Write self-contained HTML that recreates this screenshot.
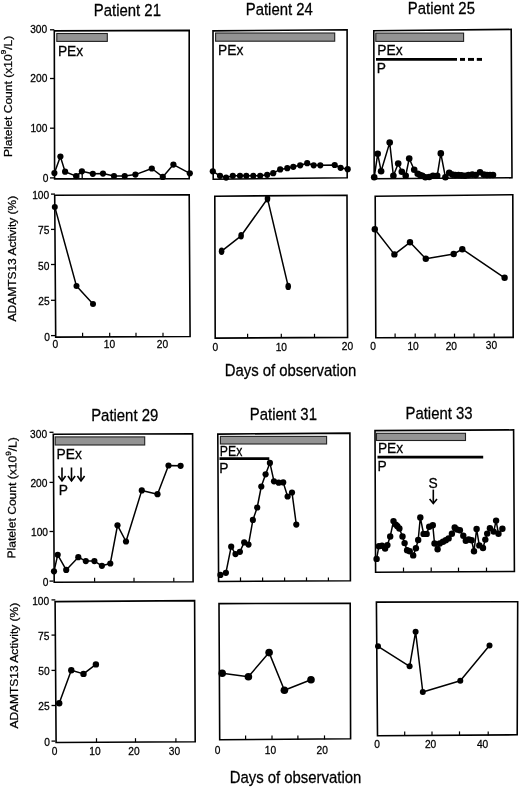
<!DOCTYPE html>
<html><head><meta charset="utf-8"><style>
html,body{margin:0;padding:0;background:#fff;}
svg{display:block;will-change:transform;}
text{font-family:"Liberation Sans", sans-serif;fill:#000;stroke:#000;stroke-width:0.25px;}
</style></head><body>
<svg width="520" height="787" viewBox="0 0 520 787">
<rect width="520" height="787" fill="#fff"/>
<text transform="translate(127.4,15.6) scale(1,1.05)" font-size="14.9" text-anchor="middle" >Patient 21</text>
<text transform="translate(279.3,15.1) scale(1,1.05)" font-size="14.9" text-anchor="middle" >Patient 24</text>
<text transform="translate(441.4,13.9) scale(1,1.05)" font-size="14.9" text-anchor="middle" >Patient 25</text>
<polygon points="54.3,30.9 189.2,30.4 189.2,178.6 54.6,178.9" fill="none" stroke="#000" stroke-width="1.6" stroke-linejoin="miter"/>
<line x1="50.0" y1="29.8" x2="54.3" y2="29.8" stroke="#000" stroke-width="1.3"/>
<text transform="translate(47.2,33.3) scale(1,1.08)" font-size="10.2" text-anchor="end" >300</text>
<line x1="50.0" y1="78.5" x2="54.3" y2="78.5" stroke="#000" stroke-width="1.3"/>
<text transform="translate(47.3,82.4) scale(1,1.08)" font-size="10.2" text-anchor="end" >200</text>
<line x1="50.0" y1="128.2" x2="54.3" y2="128.2" stroke="#000" stroke-width="1.3"/>
<text transform="translate(47.4,132.3) scale(1,1.08)" font-size="10.2" text-anchor="end" >100</text>
<line x1="50.0" y1="177.9" x2="54.3" y2="177.9" stroke="#000" stroke-width="1.3"/>
<text transform="translate(48.3,181.5) scale(1,1.08)" font-size="10.2" text-anchor="end" >0</text>
<line x1="82.2" y1="178.6" x2="82.2" y2="173.5" stroke="#000" stroke-width="1.3"/>
<line x1="78.9" y1="178.6" x2="78.9" y2="174" stroke="#000" stroke-width="1.0"/>
<rect x="56.8" y="33.5" width="50.5" height="7.9" fill="#939393" stroke="#222" stroke-width="1.1"/>
<text transform="translate(57.9,55.6) scale(1,1.02)" font-size="13.8" text-anchor="start" >PEx</text>
<path d="M54.4,173.1 L60.4,156.6 L65.1,171.7 L76.1,176.1 L81.9,171.3 L92.8,173.8 L103,173.6 L114,176 L124.7,176.1 L135.4,174.6 L151.8,168.5 L162.8,176.9 L173.4,164.6 L189.8,173.3" fill="none" stroke="#000" stroke-width="1.5" stroke-linejoin="round"/>
<circle cx="54.4" cy="173.1" r="3.1" fill="#000"/>
<circle cx="60.4" cy="156.6" r="3.1" fill="#000"/>
<circle cx="65.1" cy="171.7" r="3.1" fill="#000"/>
<circle cx="76.1" cy="176.1" r="3.1" fill="#000"/>
<circle cx="81.9" cy="171.3" r="3.1" fill="#000"/>
<circle cx="92.8" cy="173.8" r="3.1" fill="#000"/>
<circle cx="103" cy="173.6" r="3.1" fill="#000"/>
<circle cx="114" cy="176" r="3.1" fill="#000"/>
<circle cx="124.7" cy="176.1" r="3.1" fill="#000"/>
<circle cx="135.4" cy="174.6" r="3.1" fill="#000"/>
<circle cx="151.8" cy="168.5" r="3.1" fill="#000"/>
<circle cx="162.8" cy="176.9" r="3.1" fill="#000"/>
<circle cx="173.4" cy="164.6" r="3.1" fill="#000"/>
<circle cx="189.8" cy="173.3" r="3.1" fill="#000"/>
<polygon points="213,30.9 347.1,29.8 347.2,177.8 213.2,179.2" fill="none" stroke="#000" stroke-width="1.6" stroke-linejoin="miter"/>
<rect x="215.6" y="33" width="119.1" height="8.2" fill="#939393" stroke="#222" stroke-width="1.1"/>
<text transform="translate(218.0,55.4) scale(1,1.02)" font-size="13.8" text-anchor="start" >PEx</text>
<path d="M212.8,171.3 L220,175.8 L226.1,177.6 L232.8,175.8 L240,175.8 L246.3,175.8 L253.3,175.8 L260.2,175.8 L267.2,174.8 L273.2,173.2 L280.2,169.4 L287.3,168.2 L293.3,166.8 L300.2,165.3 L307.2,163.2 L313.7,165.3 L320.3,165.3 L334.7,165 L340.6,167.8 L347.7,169.2" fill="none" stroke="#000" stroke-width="1.5" stroke-linejoin="round"/>
<circle cx="212.8" cy="171.3" r="3.1" fill="#000"/>
<circle cx="220" cy="175.8" r="3.1" fill="#000"/>
<circle cx="226.1" cy="177.6" r="3.1" fill="#000"/>
<circle cx="232.8" cy="175.8" r="3.1" fill="#000"/>
<circle cx="240" cy="175.8" r="3.1" fill="#000"/>
<circle cx="246.3" cy="175.8" r="3.1" fill="#000"/>
<circle cx="253.3" cy="175.8" r="3.1" fill="#000"/>
<circle cx="260.2" cy="175.8" r="3.1" fill="#000"/>
<circle cx="267.2" cy="174.8" r="3.1" fill="#000"/>
<circle cx="273.2" cy="173.2" r="3.1" fill="#000"/>
<circle cx="280.2" cy="169.4" r="3.1" fill="#000"/>
<circle cx="287.3" cy="168.2" r="3.1" fill="#000"/>
<circle cx="293.3" cy="166.8" r="3.1" fill="#000"/>
<circle cx="300.2" cy="165.3" r="3.1" fill="#000"/>
<circle cx="307.2" cy="163.2" r="3.1" fill="#000"/>
<circle cx="313.7" cy="165.3" r="3.1" fill="#000"/>
<circle cx="320.3" cy="165.3" r="3.1" fill="#000"/>
<circle cx="334.7" cy="165" r="3.1" fill="#000"/>
<circle cx="340.6" cy="167.8" r="3.1" fill="#000"/>
<circle cx="347.7" cy="169.2" r="3.1" fill="#000"/>
<polygon points="373.8,30.7 511.2,29.4 512,177.8 374.2,178.7" fill="none" stroke="#000" stroke-width="1.6" stroke-linejoin="miter"/>
<rect x="375.8" y="33.1" width="87.8" height="8.3" fill="#939393" stroke="#222" stroke-width="1.1"/>
<text transform="translate(377.3,55) scale(1,1.02)" font-size="13.8" text-anchor="start" >PEx</text>
<line x1="376" y1="59.4" x2="457" y2="59.4" stroke="#000" stroke-width="2.9"/>
<line x1="460" y1="59.4" x2="465" y2="59.4" stroke="#000" stroke-width="2.9"/>
<line x1="468" y1="59.4" x2="474" y2="59.4" stroke="#000" stroke-width="2.9"/>
<line x1="476.8" y1="59.4" x2="482" y2="59.4" stroke="#000" stroke-width="2.9"/>
<text transform="translate(376.8,72.7) scale(1,1.02)" font-size="13.8" text-anchor="start" >P</text>
<path d="M374.2,177.3 L377.7,153.8 L381.1,171.2 L389.7,142.6 L393.4,175.8 L398.2,163.5 L401.8,171.8 L405.7,175.7 L409.2,158.5 L414.2,169.7 L417.7,173.8 L420,175 L422.3,175.8 L425.4,177.2 L429.2,177 L433,175.8 L437.2,175.8 L440.8,153.4 L445.4,177.2 L449.2,172.8 L452.3,174.6 L455.4,175 L458.5,175 L461.5,175.4 L465,175.8 L468.5,175 L472.3,174.6 L475.7,175 L480,172.3 L483.8,174.6 L487,175 L490,175 L493,175" fill="none" stroke="#000" stroke-width="1.5" stroke-linejoin="round"/>
<circle cx="374.2" cy="177.3" r="3.3" fill="#000"/>
<circle cx="377.7" cy="153.8" r="3.3" fill="#000"/>
<circle cx="381.1" cy="171.2" r="3.3" fill="#000"/>
<circle cx="389.7" cy="142.6" r="3.3" fill="#000"/>
<circle cx="393.4" cy="175.8" r="3.3" fill="#000"/>
<circle cx="398.2" cy="163.5" r="3.3" fill="#000"/>
<circle cx="401.8" cy="171.8" r="3.3" fill="#000"/>
<circle cx="405.7" cy="175.7" r="3.3" fill="#000"/>
<circle cx="409.2" cy="158.5" r="3.3" fill="#000"/>
<circle cx="414.2" cy="169.7" r="3.3" fill="#000"/>
<circle cx="417.7" cy="173.8" r="3.3" fill="#000"/>
<circle cx="420" cy="175" r="3.3" fill="#000"/>
<circle cx="422.3" cy="175.8" r="3.3" fill="#000"/>
<circle cx="425.4" cy="177.2" r="3.3" fill="#000"/>
<circle cx="429.2" cy="177" r="3.3" fill="#000"/>
<circle cx="433" cy="175.8" r="3.3" fill="#000"/>
<circle cx="437.2" cy="175.8" r="3.3" fill="#000"/>
<circle cx="440.8" cy="153.4" r="3.3" fill="#000"/>
<circle cx="445.4" cy="177.2" r="3.3" fill="#000"/>
<circle cx="449.2" cy="172.8" r="3.3" fill="#000"/>
<circle cx="452.3" cy="174.6" r="3.3" fill="#000"/>
<circle cx="455.4" cy="175" r="3.3" fill="#000"/>
<circle cx="458.5" cy="175" r="3.3" fill="#000"/>
<circle cx="461.5" cy="175.4" r="3.3" fill="#000"/>
<circle cx="465" cy="175.8" r="3.3" fill="#000"/>
<circle cx="468.5" cy="175" r="3.3" fill="#000"/>
<circle cx="472.3" cy="174.6" r="3.3" fill="#000"/>
<circle cx="475.7" cy="175" r="3.3" fill="#000"/>
<circle cx="480" cy="172.3" r="3.3" fill="#000"/>
<circle cx="483.8" cy="174.6" r="3.3" fill="#000"/>
<circle cx="487" cy="175" r="3.3" fill="#000"/>
<circle cx="490" cy="175" r="3.3" fill="#000"/>
<circle cx="493" cy="175" r="3.3" fill="#000"/>
<text transform="translate(11.6,96.3) rotate(-90) scale(1.07,1)" font-size="11.3" text-anchor="middle">Platelet Count (x10<tspan dy="-5.4" font-size="7.6">9</tspan><tspan dy="5.4">/L)</tspan></text>
<text transform="translate(15.6,258.6) rotate(-90) scale(1.07,1)" font-size="11.2" text-anchor="middle">ADAMTS13 Activity (%)</text>
<polygon points="54.7,195.2 189.2,194.7 190.1,336.5 55.7,337.1" fill="none" stroke="#000" stroke-width="1.6" stroke-linejoin="miter"/>
<line x1="51.0" y1="194.1" x2="55" y2="194.1" stroke="#000" stroke-width="1.3"/>
<text transform="translate(49.2,199.3) scale(1,1.08)" font-size="10.2" text-anchor="end" >100</text>
<line x1="51.0" y1="229.4" x2="55" y2="229.4" stroke="#000" stroke-width="1.3"/>
<text transform="translate(49.4,234.05) scale(1,1.08)" font-size="10.2" text-anchor="end" >75</text>
<line x1="51.0" y1="264.5" x2="55" y2="264.5" stroke="#000" stroke-width="1.3"/>
<text transform="translate(49.4,269.5) scale(1,1.08)" font-size="10.2" text-anchor="end" >50</text>
<line x1="51.0" y1="300.3" x2="55" y2="300.3" stroke="#000" stroke-width="1.3"/>
<text transform="translate(49.7,304.95) scale(1,1.08)" font-size="10.2" text-anchor="end" >25</text>
<line x1="51.0" y1="335.6" x2="55" y2="335.6" stroke="#000" stroke-width="1.3"/>
<text transform="translate(49.9,341.0) scale(1,1.08)" font-size="10.2" text-anchor="end" >0</text>
<line x1="82.6" y1="336.7" x2="82.6" y2="332.7" stroke="#000" stroke-width="1.2"/>
<line x1="109.7" y1="336.7" x2="109.7" y2="332.7" stroke="#000" stroke-width="1.2"/>
<line x1="136" y1="336.7" x2="136" y2="332.7" stroke="#000" stroke-width="1.2"/>
<line x1="163" y1="336.7" x2="163" y2="332.7" stroke="#000" stroke-width="1.2"/>
<text transform="translate(55.3,348.15) scale(1,1.08)" font-size="10.2" text-anchor="middle" >0</text>
<text transform="translate(109.5,347.75) scale(1,1.08)" font-size="10.2" text-anchor="middle" >10</text>
<text transform="translate(162.5,347.8) scale(1,1.08)" font-size="10.2" text-anchor="middle" >20</text>
<path d="M54.8,206.9 L76.5,286.1 L93,304" fill="none" stroke="#000" stroke-width="1.5" stroke-linejoin="round"/>
<circle cx="54.8" cy="206.9" r="3.0" fill="#000"/>
<circle cx="76.5" cy="286.1" r="3.0" fill="#000"/>
<circle cx="93" cy="304" r="3.0" fill="#000"/>
<polygon points="214.8,196.2 347,195.2 347.6,337.4 215.2,338.1" fill="none" stroke="#000" stroke-width="1.6" stroke-linejoin="miter"/>
<line x1="247.6" y1="337.8" x2="247.6" y2="333.8" stroke="#000" stroke-width="1.2"/>
<line x1="281.3" y1="337.8" x2="281.3" y2="333.8" stroke="#000" stroke-width="1.2"/>
<line x1="314.5" y1="337.8" x2="314.5" y2="333.8" stroke="#000" stroke-width="1.2"/>
<text transform="translate(215.4,351.05) scale(1,1.08)" font-size="10.2" text-anchor="middle" >0</text>
<text transform="translate(281.3,350.65) scale(1,1.08)" font-size="10.2" text-anchor="middle" >10</text>
<text transform="translate(347.4,350.15) scale(1,1.08)" font-size="10.2" text-anchor="middle" >20</text>
<path d="M221.6,251.2 L241.1,235.8 L267.5,198.7 L288.2,286.4" fill="none" stroke="#000" stroke-width="1.5" stroke-linejoin="round"/>
<ellipse cx="221.6" cy="251.2" rx="2.8" ry="3.7" fill="#000"/>
<ellipse cx="241.1" cy="235.8" rx="2.8" ry="3.7" fill="#000"/>
<ellipse cx="267.5" cy="198.7" rx="2.8" ry="3.7" fill="#000"/>
<ellipse cx="288.2" cy="286.4" rx="2.8" ry="3.7" fill="#000"/>
<text transform="translate(290.5,375.7) scale(1,1.07)" font-size="14.9" text-anchor="middle" >Days of observation</text>
<polygon points="375.2,196.2 512.8,194.7 513.2,337.4 375.8,337.8" fill="none" stroke="#000" stroke-width="1.6" stroke-linejoin="miter"/>
<line x1="395.1" y1="337.6" x2="395.1" y2="333.6" stroke="#000" stroke-width="1.2"/>
<line x1="415.2" y1="337.6" x2="415.2" y2="333.6" stroke="#000" stroke-width="1.2"/>
<line x1="435.1" y1="337.6" x2="435.1" y2="333.6" stroke="#000" stroke-width="1.2"/>
<line x1="454.5" y1="337.6" x2="454.5" y2="333.6" stroke="#000" stroke-width="1.2"/>
<line x1="474" y1="337.6" x2="474" y2="333.6" stroke="#000" stroke-width="1.2"/>
<line x1="494.2" y1="337.6" x2="494.2" y2="333.6" stroke="#000" stroke-width="1.2"/>
<text transform="translate(373.2,349.55) scale(1,1.08)" font-size="10.2" text-anchor="middle" >0</text>
<text transform="translate(413.1,349.6) scale(1,1.08)" font-size="10.2" text-anchor="middle" >10</text>
<text transform="translate(451.3,349.5) scale(1,1.08)" font-size="10.2" text-anchor="middle" >20</text>
<text transform="translate(491.5,349.05) scale(1,1.08)" font-size="10.2" text-anchor="middle" >30</text>
<path d="M374.8,229.3 L394.4,254.4 L410,242.3 L425.8,258.8 L453.7,254 L462.3,249.2 L504.6,277.8" fill="none" stroke="#000" stroke-width="1.5" stroke-linejoin="round"/>
<circle cx="374.8" cy="229.3" r="3.2" fill="#000"/>
<circle cx="394.4" cy="254.4" r="3.2" fill="#000"/>
<circle cx="410" cy="242.3" r="3.2" fill="#000"/>
<circle cx="425.8" cy="258.8" r="3.2" fill="#000"/>
<circle cx="453.7" cy="254" r="3.2" fill="#000"/>
<circle cx="462.3" cy="249.2" r="3.2" fill="#000"/>
<circle cx="504.6" cy="277.8" r="3.2" fill="#000"/>
<text transform="translate(124.7,420.6) scale(1,1.05)" font-size="14.9" text-anchor="middle" >Patient 29</text>
<text transform="translate(283.4,419.6) scale(1,1.05)" font-size="14.9" text-anchor="middle" >Patient 31</text>
<text transform="translate(439,419.1) scale(1,1.05)" font-size="14.9" text-anchor="middle" >Patient 33</text>
<polygon points="53.3,434.2 192.6,433.8 193.1,581.7 54.2,582.2" fill="none" stroke="#000" stroke-width="1.6" stroke-linejoin="miter"/>
<line x1="49.5" y1="432.3" x2="53.5" y2="432.3" stroke="#000" stroke-width="1.3"/>
<text transform="translate(47.1,437.6) scale(1,1.08)" font-size="10.2" text-anchor="end" >300</text>
<line x1="49.5" y1="482.4" x2="53.5" y2="482.4" stroke="#000" stroke-width="1.3"/>
<text transform="translate(47.4,487.1) scale(1,1.08)" font-size="10.2" text-anchor="end" >200</text>
<line x1="49.5" y1="531.5" x2="53.5" y2="531.5" stroke="#000" stroke-width="1.3"/>
<text transform="translate(48.0,536.3) scale(1,1.08)" font-size="10.2" text-anchor="end" >100</text>
<line x1="49.5" y1="581.1" x2="53.5" y2="581.1" stroke="#000" stroke-width="1.3"/>
<text transform="translate(48.4,586.05) scale(1,1.08)" font-size="10.2" text-anchor="end" >0</text>
<line x1="94.6" y1="581.8" x2="94.6" y2="577.8" stroke="#000" stroke-width="1.2"/>
<line x1="134" y1="581.8" x2="134" y2="577.8" stroke="#000" stroke-width="1.2"/>
<line x1="173.8" y1="581.8" x2="173.8" y2="577.8" stroke="#000" stroke-width="1.2"/>
<rect x="55.2" y="436.9" width="89.5" height="8.1" fill="#939393" stroke="#222" stroke-width="1.1"/>
<text transform="translate(56.5,458.8) scale(1,1.02)" font-size="13.8" text-anchor="start" >PEx</text>
<line x1="62" y1="467.5" x2="62" y2="480.7" stroke="#000" stroke-width="1.6"/>
<path d="M58.4,476 L62,481 L65.6,476" fill="none" stroke="#000" stroke-width="1.6" stroke-linejoin="miter"/>
<line x1="71.5" y1="467.5" x2="71.5" y2="480.7" stroke="#000" stroke-width="1.6"/>
<path d="M67.9,476 L71.5,481 L75.1,476" fill="none" stroke="#000" stroke-width="1.6" stroke-linejoin="miter"/>
<line x1="81" y1="467.5" x2="81" y2="480.7" stroke="#000" stroke-width="1.6"/>
<path d="M77.4,476 L81,481 L84.6,476" fill="none" stroke="#000" stroke-width="1.6" stroke-linejoin="miter"/>
<text transform="translate(58.8,495.2) scale(1,1.02)" font-size="13.8" text-anchor="start" >P</text>
<path d="M54,571.3 L57.7,554.8 L66.2,569.9 L78.3,557.2 L85.8,561.1 L94.4,561.1 L101.9,565.8 L110.3,563.5 L117.5,525.3 L126,541.5 L141.8,490.4 L157.5,494.2 L168.5,465.5 L180.6,465.8" fill="none" stroke="#000" stroke-width="1.5" stroke-linejoin="round"/>
<circle cx="54" cy="571.3" r="3.1" fill="#000"/>
<circle cx="57.7" cy="554.8" r="3.1" fill="#000"/>
<circle cx="66.2" cy="569.9" r="3.1" fill="#000"/>
<circle cx="78.3" cy="557.2" r="3.1" fill="#000"/>
<circle cx="85.8" cy="561.1" r="3.1" fill="#000"/>
<circle cx="94.4" cy="561.1" r="3.1" fill="#000"/>
<circle cx="101.9" cy="565.8" r="3.1" fill="#000"/>
<circle cx="110.3" cy="563.5" r="3.1" fill="#000"/>
<circle cx="117.5" cy="525.3" r="3.1" fill="#000"/>
<circle cx="126" cy="541.5" r="3.1" fill="#000"/>
<circle cx="141.8" cy="490.4" r="3.1" fill="#000"/>
<circle cx="157.5" cy="494.2" r="3.1" fill="#000"/>
<circle cx="168.5" cy="465.5" r="3.1" fill="#000"/>
<circle cx="180.6" cy="465.8" r="3.1" fill="#000"/>
<text transform="translate(15.9,497.8) rotate(-89.4) scale(1.07,1)" font-size="11.3" text-anchor="middle">Platelet Count (x10<tspan dy="-5.4" font-size="7.6">9</tspan><tspan dy="5.4">/L)</tspan></text>
<text transform="translate(18.4,665.7) rotate(-90) scale(1.07,1)" font-size="11.2" text-anchor="middle">ADAMTS13 Activity (%)</text>
<polygon points="217.8,434.1 349.9,433.1 350.4,580.8 218.6,581.5" fill="none" stroke="#000" stroke-width="1.6" stroke-linejoin="miter"/>
<line x1="240.5" y1="581" x2="240.5" y2="577.4" stroke="#000" stroke-width="1.2"/>
<line x1="262.6" y1="581" x2="262.6" y2="577.4" stroke="#000" stroke-width="1.2"/>
<line x1="284.6" y1="581" x2="284.6" y2="577.4" stroke="#000" stroke-width="1.2"/>
<line x1="306.5" y1="581" x2="306.5" y2="577.4" stroke="#000" stroke-width="1.2"/>
<line x1="328.4" y1="581" x2="328.4" y2="577.4" stroke="#000" stroke-width="1.2"/>
<rect x="220.4" y="436.4" width="106.2" height="7.6" fill="#939393" stroke="#222" stroke-width="1.1"/>
<text transform="translate(219.8,455.6) scale(1,1.02)" font-size="13.8" text-anchor="start" textLength="22.5" lengthAdjust="spacingAndGlyphs">PEx</text>
<line x1="219.5" y1="458.7" x2="269.3" y2="458.7" stroke="#000" stroke-width="2.7"/>
<text transform="translate(219.3,472.6) scale(1,1.02)" font-size="13.8" text-anchor="start" >P</text>
<path d="M220.4,574.9 L225.9,572.8 L231.2,546.7 L235.5,554.1 L239.9,551.8 L244.2,542.4 L248.5,544.6 L252.9,519.9 L257.2,507.5 L261.3,486.5 L265.6,474.3 L269.9,462.9 L274,481.3 L278.7,482.7 L283.2,482.4 L287.6,496.5 L292,492.5 L296.3,524.6" fill="none" stroke="#000" stroke-width="1.5" stroke-linejoin="round"/>
<circle cx="220.4" cy="574.9" r="3.1" fill="#000"/>
<circle cx="225.9" cy="572.8" r="3.1" fill="#000"/>
<circle cx="231.2" cy="546.7" r="3.1" fill="#000"/>
<circle cx="235.5" cy="554.1" r="3.1" fill="#000"/>
<circle cx="239.9" cy="551.8" r="3.1" fill="#000"/>
<circle cx="244.2" cy="542.4" r="3.1" fill="#000"/>
<circle cx="248.5" cy="544.6" r="3.1" fill="#000"/>
<circle cx="252.9" cy="519.9" r="3.1" fill="#000"/>
<circle cx="257.2" cy="507.5" r="3.1" fill="#000"/>
<circle cx="261.3" cy="486.5" r="3.1" fill="#000"/>
<circle cx="265.6" cy="474.3" r="3.1" fill="#000"/>
<circle cx="269.9" cy="462.9" r="3.1" fill="#000"/>
<circle cx="274" cy="481.3" r="3.1" fill="#000"/>
<circle cx="278.7" cy="482.7" r="3.1" fill="#000"/>
<circle cx="283.2" cy="482.4" r="3.1" fill="#000"/>
<circle cx="287.6" cy="496.5" r="3.1" fill="#000"/>
<circle cx="292" cy="492.5" r="3.1" fill="#000"/>
<circle cx="296.3" cy="524.6" r="3.1" fill="#000"/>
<polygon points="375,430.6 513.6,429.9 514.4,571.5 375.6,572.2" fill="none" stroke="#000" stroke-width="1.6" stroke-linejoin="miter"/>
<line x1="403.5" y1="571.8" x2="403.5" y2="567.6" stroke="#000" stroke-width="1.2"/>
<line x1="431.2" y1="571.8" x2="431.2" y2="567.6" stroke="#000" stroke-width="1.2"/>
<line x1="458.5" y1="571.8" x2="458.5" y2="567.6" stroke="#000" stroke-width="1.2"/>
<line x1="486.5" y1="571.8" x2="486.5" y2="567.6" stroke="#000" stroke-width="1.2"/>
<rect x="376.5" y="433.3" width="89.0" height="7.2" fill="#939393" stroke="#222" stroke-width="1.1"/>
<text transform="translate(377.9,453.1) scale(1,1.02)" font-size="13.8" text-anchor="start" >PEx</text>
<line x1="377.5" y1="457.2" x2="483.2" y2="457.2" stroke="#000" stroke-width="2.7"/>
<text transform="translate(377.5,470.8) scale(1,1.02)" font-size="13.8" text-anchor="start" >P</text>
<text transform="translate(433.2,487.5) scale(1,1.02)" font-size="13.8" text-anchor="middle" >S</text>
<line x1="433.3" y1="489.6" x2="433.3" y2="503.1" stroke="#000" stroke-width="1.6"/>
<path d="M429.6,498.9 L433.3,503.4 L437.0,498.9" fill="none" stroke="#000" stroke-width="1.6" stroke-linejoin="miter"/>
<path d="M376.6,558.9 L378.9,546.2 L382,545.7 L385.1,548.5 L387.4,545.1 L390.2,536.5 L393.5,521.1 L395.8,524.6 L397.4,526.2 L399.4,528.5 L402.5,536.5 L404.6,543.1 L407.1,550.3 L409.7,551.2 L413.2,555.4 L415.9,548.2 L418.2,540 L420.3,517.5 L423.6,533.9 L426.6,533.9 L429.2,526.8 L432.8,525.2 L434.5,543.5 L437.6,549.2 L439.7,543.5 L443,541.8 L445.8,540.2 L448.6,538.4 L451.9,533.8 L454.7,527.5 L457,529.5 L459.9,530.3 L463.3,535.8 L465.8,540.7 L468.7,539.5 L471.6,540.3 L474,551.3 L476.6,529 L479.3,545.4 L483,548 L485.3,539.6 L487.2,533.6 L489.9,528.3 L493.7,531.6 L496.1,520.6 L498.5,533.8 L502.4,528.8" fill="none" stroke="#000" stroke-width="1.5" stroke-linejoin="round"/>
<circle cx="376.6" cy="558.9" r="3.2" fill="#000"/>
<circle cx="378.9" cy="546.2" r="3.2" fill="#000"/>
<circle cx="382" cy="545.7" r="3.2" fill="#000"/>
<circle cx="385.1" cy="548.5" r="3.2" fill="#000"/>
<circle cx="387.4" cy="545.1" r="3.2" fill="#000"/>
<circle cx="390.2" cy="536.5" r="3.2" fill="#000"/>
<circle cx="393.5" cy="521.1" r="3.2" fill="#000"/>
<circle cx="395.8" cy="524.6" r="3.2" fill="#000"/>
<circle cx="397.4" cy="526.2" r="3.2" fill="#000"/>
<circle cx="399.4" cy="528.5" r="3.2" fill="#000"/>
<circle cx="402.5" cy="536.5" r="3.2" fill="#000"/>
<circle cx="404.6" cy="543.1" r="3.2" fill="#000"/>
<circle cx="407.1" cy="550.3" r="3.2" fill="#000"/>
<circle cx="409.7" cy="551.2" r="3.2" fill="#000"/>
<circle cx="413.2" cy="555.4" r="3.2" fill="#000"/>
<circle cx="415.9" cy="548.2" r="3.2" fill="#000"/>
<circle cx="418.2" cy="540" r="3.2" fill="#000"/>
<circle cx="420.3" cy="517.5" r="3.2" fill="#000"/>
<circle cx="423.6" cy="533.9" r="3.2" fill="#000"/>
<circle cx="426.6" cy="533.9" r="3.2" fill="#000"/>
<circle cx="429.2" cy="526.8" r="3.2" fill="#000"/>
<circle cx="432.8" cy="525.2" r="3.2" fill="#000"/>
<circle cx="434.5" cy="543.5" r="3.2" fill="#000"/>
<circle cx="437.6" cy="549.2" r="3.2" fill="#000"/>
<circle cx="439.7" cy="543.5" r="3.2" fill="#000"/>
<circle cx="443" cy="541.8" r="3.2" fill="#000"/>
<circle cx="445.8" cy="540.2" r="3.2" fill="#000"/>
<circle cx="448.6" cy="538.4" r="3.2" fill="#000"/>
<circle cx="451.9" cy="533.8" r="3.2" fill="#000"/>
<circle cx="454.7" cy="527.5" r="3.2" fill="#000"/>
<circle cx="457" cy="529.5" r="3.2" fill="#000"/>
<circle cx="459.9" cy="530.3" r="3.2" fill="#000"/>
<circle cx="463.3" cy="535.8" r="3.2" fill="#000"/>
<circle cx="465.8" cy="540.7" r="3.2" fill="#000"/>
<circle cx="468.7" cy="539.5" r="3.2" fill="#000"/>
<circle cx="471.6" cy="540.3" r="3.2" fill="#000"/>
<circle cx="474" cy="551.3" r="3.2" fill="#000"/>
<circle cx="476.6" cy="529" r="3.2" fill="#000"/>
<circle cx="479.3" cy="545.4" r="3.2" fill="#000"/>
<circle cx="483" cy="548" r="3.2" fill="#000"/>
<circle cx="485.3" cy="539.6" r="3.2" fill="#000"/>
<circle cx="487.2" cy="533.6" r="3.2" fill="#000"/>
<circle cx="489.9" cy="528.3" r="3.2" fill="#000"/>
<circle cx="493.7" cy="531.6" r="3.2" fill="#000"/>
<circle cx="496.1" cy="520.6" r="3.2" fill="#000"/>
<circle cx="498.5" cy="533.8" r="3.2" fill="#000"/>
<circle cx="502.4" cy="528.8" r="3.2" fill="#000"/>
<polygon points="55.1,601.6 194.6,600.6 195.2,741.7 56.1,742.5" fill="none" stroke="#000" stroke-width="1.6" stroke-linejoin="miter"/>
<line x1="51.5" y1="599.9" x2="55.3" y2="599.9" stroke="#000" stroke-width="1.3"/>
<text transform="translate(49.2,605.05) scale(1,1.08)" font-size="10.2" text-anchor="end" >100</text>
<line x1="51.5" y1="635.1" x2="55.3" y2="635.1" stroke="#000" stroke-width="1.3"/>
<text transform="translate(49.4,639.95) scale(1,1.08)" font-size="10.2" text-anchor="end" >75</text>
<line x1="51.5" y1="670.4" x2="55.3" y2="670.4" stroke="#000" stroke-width="1.3"/>
<text transform="translate(49.7,675.15) scale(1,1.08)" font-size="10.2" text-anchor="end" >50</text>
<line x1="51.5" y1="705.5" x2="55.3" y2="705.5" stroke="#000" stroke-width="1.3"/>
<text transform="translate(49.7,710.2) scale(1,1.08)" font-size="10.2" text-anchor="end" >25</text>
<line x1="51.5" y1="741.1" x2="55.3" y2="741.1" stroke="#000" stroke-width="1.3"/>
<text transform="translate(49.9,746.3) scale(1,1.08)" font-size="10.2" text-anchor="end" >0</text>
<line x1="96.5" y1="742.2" x2="96.5" y2="738.2" stroke="#000" stroke-width="1.2"/>
<line x1="135.5" y1="742.2" x2="135.5" y2="738.2" stroke="#000" stroke-width="1.2"/>
<line x1="175.9" y1="742.2" x2="175.9" y2="738.2" stroke="#000" stroke-width="1.2"/>
<text transform="translate(54.7,754.8) scale(1,1.08)" font-size="10.2" text-anchor="middle" >0</text>
<text transform="translate(94.9,754.5) scale(1,1.08)" font-size="10.2" text-anchor="middle" >10</text>
<text transform="translate(134,754.5) scale(1,1.08)" font-size="10.2" text-anchor="middle" >20</text>
<text transform="translate(174.4,754.5) scale(1,1.08)" font-size="10.2" text-anchor="middle" >30</text>
<path d="M59.2,703.3 L71.3,670.2 L83.5,673.9 L95.9,664.4" fill="none" stroke="#000" stroke-width="1.5" stroke-linejoin="round"/>
<circle cx="59.2" cy="703.3" r="3.2" fill="#000"/>
<circle cx="71.3" cy="670.2" r="3.2" fill="#000"/>
<circle cx="83.5" cy="673.9" r="3.2" fill="#000"/>
<circle cx="95.9" cy="664.4" r="3.2" fill="#000"/>
<polygon points="219,603.6 350.2,603.2 350.6,738.8 219.7,739.7" fill="none" stroke="#000" stroke-width="1.6" stroke-linejoin="miter"/>
<line x1="245.6" y1="739.4" x2="245.6" y2="735.4" stroke="#000" stroke-width="1.2"/>
<line x1="272" y1="739.4" x2="272" y2="735.4" stroke="#000" stroke-width="1.2"/>
<line x1="297.9" y1="739.4" x2="297.9" y2="735.4" stroke="#000" stroke-width="1.2"/>
<line x1="324.5" y1="739.4" x2="324.5" y2="735.4" stroke="#000" stroke-width="1.2"/>
<text transform="translate(217.5,754.05) scale(1,1.08)" font-size="10.2" text-anchor="middle" >0</text>
<text transform="translate(270.4,754.15) scale(1,1.08)" font-size="10.2" text-anchor="middle" >10</text>
<text transform="translate(322.2,754.15) scale(1,1.08)" font-size="10.2" text-anchor="middle" >20</text>
<path d="M222.2,673.3 L248.4,676.7 L269.1,652.6 L284.4,690.2 L311,679.8" fill="none" stroke="#000" stroke-width="1.5" stroke-linejoin="round"/>
<circle cx="222.2" cy="673.3" r="3.8" fill="#000"/>
<circle cx="248.4" cy="676.7" r="3.8" fill="#000"/>
<circle cx="269.1" cy="652.6" r="3.8" fill="#000"/>
<circle cx="284.4" cy="690.2" r="3.8" fill="#000"/>
<circle cx="311" cy="679.8" r="3.8" fill="#000"/>
<text transform="translate(295.5,782.6) scale(1,1.07)" font-size="14.9" text-anchor="middle" >Days of observation</text>
<polygon points="376.4,602.1 517.7,601.7 517.2,734.8 377.5,735.8" fill="none" stroke="#000" stroke-width="1.6" stroke-linejoin="miter"/>
<line x1="404.7" y1="735.4" x2="404.7" y2="731.4" stroke="#000" stroke-width="1.2"/>
<line x1="432" y1="735.4" x2="432" y2="731.4" stroke="#000" stroke-width="1.2"/>
<line x1="459.5" y1="735.4" x2="459.5" y2="731.4" stroke="#000" stroke-width="1.2"/>
<line x1="488.2" y1="735.4" x2="488.2" y2="731.4" stroke="#000" stroke-width="1.2"/>
<text transform="translate(377,747.8) scale(1,1.08)" font-size="10.2" text-anchor="middle" >0</text>
<text transform="translate(430.6,747.95) scale(1,1.08)" font-size="10.2" text-anchor="middle" >20</text>
<text transform="translate(482.6,747.6) scale(1,1.08)" font-size="10.2" text-anchor="middle" >40</text>
<path d="M378,646.3 L409.6,666.3 L415.6,631.8 L422.8,692 L460.3,680.8 L489.5,645.5" fill="none" stroke="#000" stroke-width="1.5" stroke-linejoin="round"/>
<circle cx="378" cy="646.3" r="3.0" fill="#000"/>
<circle cx="409.6" cy="666.3" r="3.0" fill="#000"/>
<circle cx="415.6" cy="631.8" r="3.0" fill="#000"/>
<circle cx="422.8" cy="692" r="3.0" fill="#000"/>
<circle cx="460.3" cy="680.8" r="3.0" fill="#000"/>
<circle cx="489.5" cy="645.5" r="3.0" fill="#000"/>
</svg>
</body></html>
